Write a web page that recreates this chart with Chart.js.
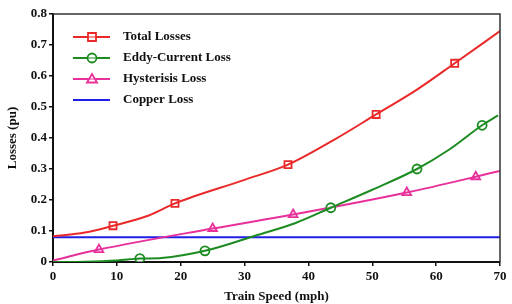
<!DOCTYPE html>
<html>
<head>
<meta charset="utf-8">
<script src="https://cdn.jsdelivr.net/npm/chart.js@4"></script>
<style>
  html, body { margin: 0; padding: 0; background: #fff; }
  #wrap { width: 512px; height: 304px; }
</style>
</head>
<body>
<div id="wrap"><canvas id="grafico"></canvas></div>
<script>
// valores
const xTicks = [0, 10, 20, 30, 40, 50, 60, 70];
const yTicks = [0, 0.1, 0.2, 0.3, 0.4, 0.5, 0.6, 0.7, 0.8];

const totalSpeed = [0, 5, 9.4, 15, 19.1, 30, 36.8, 44, 50.6, 57, 62.9, 70];
const totalLoss = [0.083, 0.095, 0.117, 0.150, 0.189, 0.265, 0.314, 0.394, 0.476, 0.556, 0.641, 0.745];
const totalMarkSpeed = [9.4, 19.1, 36.8, 50.6, 62.9];
const totalMarkLoss = [0.117, 0.189, 0.314, 0.476, 0.641];

const eddySpeed = [0, 5, 10, 13.6, 17, 23.8, 32, 38, 43.5, 50, 57, 62, 67.2, 69.7];
const eddyLoss = [0, 0.001, 0.005, 0.011, 0.013, 0.036, 0.087, 0.126, 0.175, 0.233, 0.300, 0.362, 0.441, 0.473];
const eddyMarkSpeed = [13.6, 23.8, 43.5, 57, 67.2];
const eddyMarkLoss = [0.011, 0.036, 0.175, 0.300, 0.441];

const hystSpeed = [0, 7.2, 25, 37.6, 55.4, 66.2, 70];
const hystLoss = [0.005, 0.040, 0.108, 0.153, 0.224, 0.275, 0.294];
const hystMarkSpeed = [7.2, 25, 37.6, 55.4, 66.2];
const hystMarkLoss = [0.040, 0.108, 0.153, 0.224, 0.275];

const copperSpeed = [0, 70];
const copperLoss = [0.08, 0.08];

const series = [
    { label: "Total Losses", color: "#ea2a2a", marker: "rect", xs: totalSpeed, ys: totalLoss, mx: totalMarkSpeed, my: totalMarkLoss },
    { label: "Eddy-Current Loss", color: "#1c8c22", marker: "circle", xs: eddySpeed, ys: eddyLoss, mx: eddyMarkSpeed, my: eddyMarkLoss },
    { label: "Hysterisis Loss", color: "#e8309a", marker: "triangle", xs: hystSpeed, ys: hystLoss, mx: hystMarkSpeed, my: hystMarkLoss },
    { label: "Copper Loss", color: "#1f1fe6", marker: null, xs: copperSpeed, ys: copperLoss, mx: [], my: [] }
];

const fonte = "'Liberation Serif', 'Times New Roman', serif";

const datasets = [];
series.forEach((s) => {
    datasets.push({
        label: s.label,
        data: s.xs.map((x, i) => ({ x: x, y: s.ys[i] })),
        showLine: true,
        borderColor: s.color,
        borderWidth: 2,
        pointRadius: 0,
        cubicInterpolationMode: "monotone",
        fill: false
    });
    if (s.marker) {
        datasets.push({
            label: s.label + " marcadores",
            data: s.mx.map((x, i) => ({ x: x, y: s.my[i] })),
            showLine: false,
            pointStyle: s.marker,
            pointRadius: s.marker === "circle" ? 4.5 : 5,
            pointBorderWidth: 1.8,
            pointBorderColor: s.color,
            pointBackgroundColor: "rgba(255,255,255,0.5)"
        });
    }
});

// moldura superior/direita
const moldura = {
    id: "moldura",
    afterDatasetsDraw(chart) {
        const { ctx, chartArea: a } = chart;
        ctx.save();
        ctx.strokeStyle = "#333";
        ctx.lineWidth = 1.5;
        ctx.beginPath();
        ctx.moveTo(a.left, a.top);
        ctx.lineTo(a.right, a.top);
        ctx.lineTo(a.right, a.bottom);
        ctx.stroke();
        ctx.restore();
    }
};

// legenda dentro da área do gráfico
const legenda = {
    id: "legenda",
    afterDatasetsDraw(chart) {
        const { ctx } = chart;
        ctx.save();
        series.forEach((s, i) => {
            const y = 37 + i * 21;
            ctx.strokeStyle = s.color;
            ctx.lineWidth = 2;
            ctx.beginPath();
            ctx.moveTo(73, y);
            ctx.lineTo(110, y);
            ctx.stroke();
            if (s.marker) {
                ctx.fillStyle = "rgba(255,255,255,0.5)";
                ctx.strokeStyle = s.color;
                ctx.lineWidth = 1.8;
                ctx.beginPath();
                if (s.marker === "rect") ctx.rect(92 - 4, y - 4, 8, 8);
                else if (s.marker === "circle") ctx.arc(92, y, 4.5, 0, Math.PI * 2);
                else { ctx.moveTo(92, y - 5); ctx.lineTo(97, y + 3.5); ctx.lineTo(87, y + 3.5); ctx.closePath(); }
                ctx.fill();
                ctx.stroke();
            }
            ctx.fillStyle = "#111";
            ctx.font = "bold 13px " + fonte;
            ctx.textBaseline = "middle";
            ctx.fillText(s.label, 123, y);
        });
        ctx.restore();
    }
};

new Chart(document.getElementById("grafico"), {
    type: "scatter",
    data: { datasets: datasets },
    options: {
        responsive: true,
        maintainAspectRatio: false,
        animation: false,
        layout: { padding: { top: 14, right: 12, left: 0, bottom: 0 } },
        plugins: { legend: { display: false }, tooltip: { enabled: false } },
        scales: {
            x: {
                type: "linear",
                min: 0,
                max: 70,
                afterBuildTicks: (scale) => { scale.ticks = xTicks.map(v => ({ value: v })); },
                afterFit: (scale) => { scale.height = 42; },
                ticks: {
                    color: "#111",
                    font: { family: fonte, weight: "bold", size: 13 },
                    padding: 3,
                    maxRotation: 0
                },
                grid: { drawOnChartArea: false, color: "#111", tickLength: 4, lineWidth: 1.5 },
                border: { color: "#111", width: 2 },
                title: {
                    display: true,
                    text: "Train Speed (mph)",
                    color: "#111",
                    font: { family: fonte, weight: "bold", size: 13 },
                    padding: { top: 0, bottom: 0 }
                }
            },
            y: {
                min: 0,
                max: 0.8,
                afterBuildTicks: (scale) => { scale.ticks = yTicks.map(v => ({ value: v })); },
                afterFit: (scale) => { scale.width = 53; },
                ticks: {
                    color: "#111",
                    font: { family: fonte, weight: "bold", size: 13 },
                    padding: 2,
                    callback: (v) => v === 0 ? "0" : v.toFixed(1)
                },
                grid: { drawOnChartArea: false, color: "#111", tickLength: 4, lineWidth: 1.5 },
                border: { color: "#111", width: 2 },
                title: {
                    display: true,
                    text: "Losses (pu)",
                    color: "#111",
                    font: { family: fonte, weight: "bold", size: 13 },
                    padding: { top: 5, bottom: 0 }
                }
            }
        }
    },
    plugins: [moldura, legenda]
});
</script>
</body>
</html>
